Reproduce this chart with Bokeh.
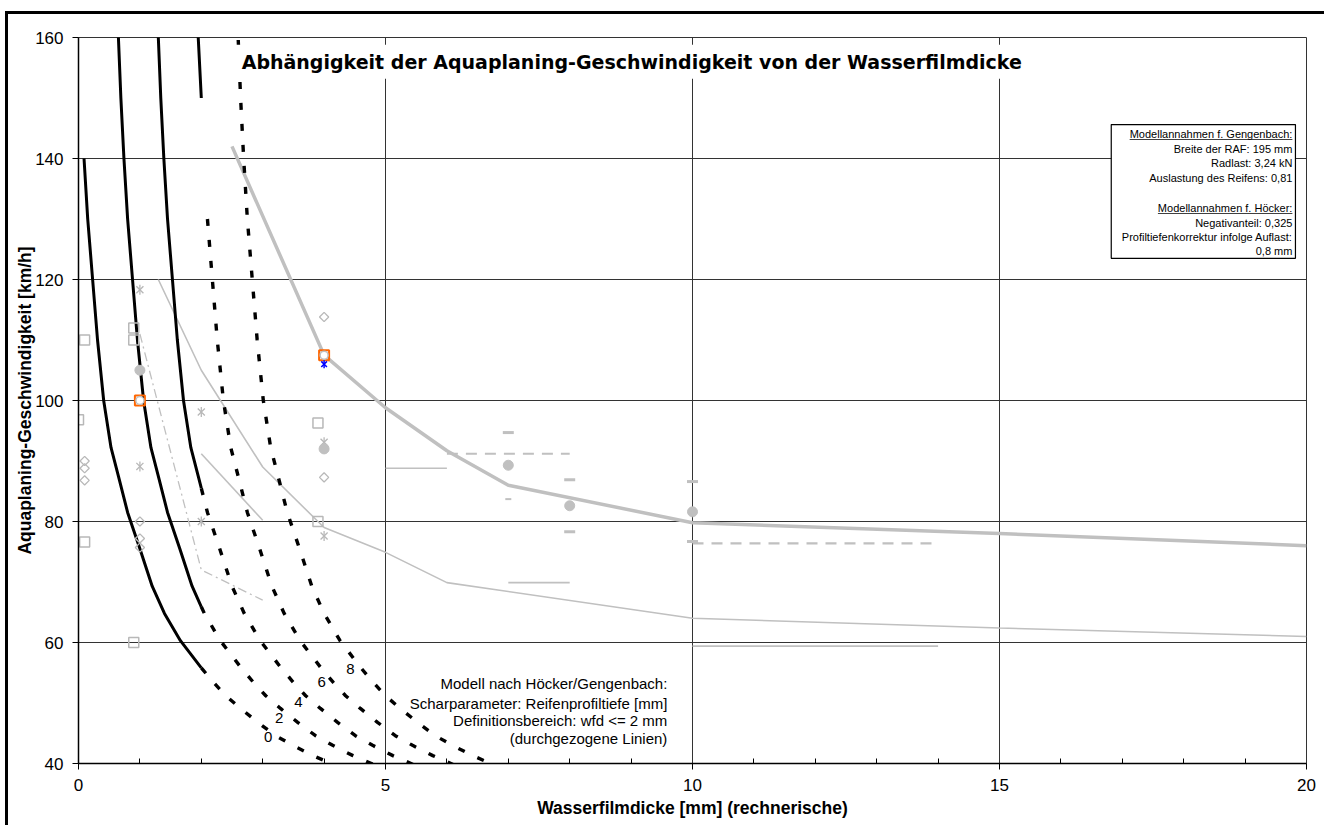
from bokeh.plotting import figure
from bokeh.models import Range1d, Label, FixedTicker, BoxAnnotation
from bokeh.embed import file_html
from bokeh.resources import INLINE

# ---- model curves after Höcker/Gengenbach, one per tread depth [mm] ----
# solid part: water film depth <= 2 mm, dotted part: extrapolation
c0_solid_x = [0.09, 0.15, 0.23, 0.31, 0.41, 0.53, 0.65, 0.8, 1.0, 1.2, 1.4, 1.66, 2.0]
c0_solid_y = [140, 130, 120, 110, 100, 92.2, 87.5, 81.5, 75.5, 69.3, 64.8, 60.3, 55.8]
c0_dot_x = [2.0, 2.2, 2.4, 2.64, 2.92, 3.21, 3.49, 3.82, 4.16, 4.4]
c0_dot_y = [55.8, 53.4, 51.2, 49.1, 46.8, 44.6, 43.0, 41.3, 39.8, 38.8]

c2_solid_x = [0.64, 0.65, 0.69, 0.74, 0.80, 0.88, 0.96, 1.06, 1.18, 1.30, 1.45, 1.65, 1.85, 2.0]
c2_solid_y = [170, 160, 150, 140, 130, 120, 110, 100, 92.2, 87.5, 81.5, 75.5, 69.3, 65.9]
c2_dot_x = [2.0, 2.05, 2.31, 2.65, 2.85, 3.05, 3.29, 3.57, 3.86, 4.14, 4.47, 4.81, 5.05]
c2_dot_y = [65.9, 64.8, 60.3, 55.8, 53.4, 51.2, 49.1, 46.8, 44.6, 43.0, 41.3, 39.8, 38.8]

c4_solid_x = [1.29, 1.30, 1.34, 1.39, 1.45, 1.53, 1.61, 1.71, 1.83, 1.95, 2.0]
c4_solid_y = [170, 160, 150, 140, 130, 120, 110, 100, 92.2, 87.5, 85.5]
c4_dot_x = [2.0, 2.1, 2.3, 2.5, 2.7, 2.96, 3.3, 3.5, 3.7, 3.94, 4.22, 4.51, 4.79, 5.12, 5.46, 5.7]
c4_dot_y = [85.5, 81.5, 75.5, 69.3, 64.8, 60.3, 55.8, 53.4, 51.2, 49.1, 46.8, 44.6, 43.0, 41.3, 39.8, 38.8]

c6_solid_x = [1.94, 1.95, 2.0]
c6_solid_y = [170, 160, 150]
c6_dot_x = [2.1, 2.18, 2.26, 2.36, 2.48, 2.6, 2.75, 2.95, 3.15, 3.35, 3.61, 3.95, 4.15, 4.35,
            4.59, 4.87, 5.16, 5.44, 5.77, 6.11, 6.35]
c6_dot_y = [130, 120, 110, 100, 92.2, 87.5, 81.5, 75.5, 69.3, 64.8, 60.3, 55.8, 53.4, 51.2,
            49.1, 46.8, 44.6, 43.0, 41.3, 39.8, 38.8]

c8_dot_x = [2.59, 2.6, 2.64, 2.69, 2.75, 2.83, 2.91, 3.01, 3.13, 3.25, 3.4, 3.6, 3.8, 4.0,
            4.26, 4.6, 4.8, 5.0, 5.24, 5.52, 5.81, 6.09, 6.42, 6.76, 7.0]
c8_dot_y = [170, 160, 150, 140, 130, 120, 110, 100, 92.2, 87.5, 81.5, 75.5, 69.3, 64.8,
            60.3, 55.8, 53.4, 51.2, 49.1, 46.8, 44.6, 43.0, 41.3, 39.8, 38.8]

curve_names = ["0", "2", "4", "6", "8"]
curve_label_x = [3.09, 3.27, 3.58, 3.96, 4.43]
curve_label_y = [44.3, 47.6, 50.1, 53.4, 55.7]

# ---- measured / comparison series ----
fit_x = [2.5, 4, 5, 6, 7, 10, 15, 20]
fit_y = [142, 107.5, 98.8, 91.7, 86, 79.8, 78, 76]

thin_a_x = [1.3, 2, 3, 4, 5, 6, 10, 15, 20]
thin_a_y = [120, 105, 89, 79, 74.9, 69.9, 64, 62.4, 61]

thin_b_x = [2, 3]
thin_b_y = [91.2, 80.2]

dashdot_x = [1, 2, 3]
dashdot_y = [111, 72, 67]

seg_solid_x0 = [5, 7, 10]
seg_solid_x1 = [6, 8, 14]
seg_solid_y = [88.8, 69.9, 59.4]

seg_dash_x0 = [6, 10]
seg_dash_x1 = [8, 14]
seg_dash_y = [91.2, 76.4]

square_x = [0.1, 0.0, 0.1, 0.9, 0.9, 0.9, 3.9, 3.9]
square_y = [110, 96.8, 76.6, 112, 110, 60, 96.3, 80]

diamond_x = [0.1, 0.1, 0.1, 1, 1, 1, 4, 4]
diamond_y = [90, 88.8, 86.8, 80, 77.2, 75.7, 113.8, 87.3]

star_x = [1, 1, 2, 2, 4, 4]
star_y = [118.3, 89.1, 98.1, 80, 93.1, 77.6]

dot_x = [1, 4, 7, 8, 10]
dot_y = [105, 92, 89.3, 82.6, 81.6]

bar_x = [7, 8, 8, 10, 10]
bar_y = [94.7, 86.9, 78.3, 86.6, 76.7]
small_bar_x = [7]
small_bar_y = [83.7]

orange_x = [1, 4]
orange_y = [100, 107.5]

blue_x = [4]
blue_y = [106]

x_ticks = [0, 5, 10, 15, 20]
x_minor = [v for v in range(1, 20) if v % 5]
y_ticks = [40, 60, 80, 100, 120, 140, 160]

title_text = "Abhängigkeit der Aquaplaning-Geschwindigkeit von der Wasserfilmdicke"
note_lines = ["Modell nach Höcker/Gengenbach:",
              "Scharparameter: Reifenprofiltiefe [mm]",
              "Definitionsbereich: wfd <= 2 mm",
              "(durchgezogene Linien)"]
note_y = [53.2, 50.0, 47.1, 44.1]
box_lines = ["Modellannahmen f. Gengenbach:", "Breite der RAF: 195 mm", "Radlast: 3,24 kN",
             "Auslastung des Reifens: 0,81", "Modellannahmen f. Höcker:",
             "Negativanteil: 0,325", "Profiltiefenkorrektur infolge Auflast:", "0,8 mm"]
box_line_y = [144.1, 141.65, 139.3, 136.85, 131.9, 129.4, 126.95, 124.65]

GRAY = "#c0c0c0"
MARK = "#b8b8b8"
FONT = "Liberation Sans"

p = figure(width=1316, height=811, margin=(11, 0, 0, 5),
           x_range=Range1d(0, 20), y_range=Range1d(40, 160),
           output_backend="svg", toolbar_location=None,
           min_border_left=70, min_border_top=23, min_border_right=21, min_border_bottom=65,
           styles={"border-left": "3px solid black", "border-top": "3px solid black",
                   "box-sizing": "content-box"})
p.background_fill_color = "white"
p.border_fill_color = "white"
p.outline_line_color = "#333333"
p.outline_line_width = 1

p.xaxis.ticker = FixedTicker(ticks=x_ticks, minor_ticks=x_minor)
p.yaxis.ticker = FixedTicker(ticks=y_ticks, minor_ticks=[])
p.xgrid.ticker = FixedTicker(ticks=x_ticks)
p.ygrid.ticker = FixedTicker(ticks=y_ticks)
for g in (p.xgrid, p.ygrid):
    g.grid_line_color = "#333333"
    g.grid_line_width = 1

for ax in (p.xaxis, p.yaxis):
    ax.axis_line_color = "black"
    ax.axis_line_width = 1.5
    ax.major_tick_line_color = "black"
    ax.major_tick_in = 0
    ax.major_tick_out = 6
    ax.major_label_text_font = FONT
    ax.major_label_text_font_size = "17px"
    ax.major_label_text_color = "black"
    ax.axis_label_text_font = FONT
    ax.axis_label_text_font_style = "bold"
    ax.axis_label_text_font_size = "17.5px"
    ax.axis_label_text_color = "black"
p.xaxis.minor_tick_line_color = "black"
p.xaxis.minor_tick_in = 5
p.xaxis.minor_tick_out = 0
p.yaxis.minor_tick_line_color = None
p.xaxis.major_label_standoff = 9
p.yaxis.major_label_standoff = 9
p.xaxis.axis_label = "Wasserfilmdicke [mm] (rechnerische)"
p.yaxis.axis_label = "Aquaplaning-Geschwindigkeit [km/h]"
p.xaxis.axis_label_standoff = 4
p.yaxis.axis_label_standoff = -3

# measured comparison data (gray)
p.line(fit_x, fit_y, line_color=GRAY, line_width=3.5)
p.line(thin_a_x, thin_a_y, line_color=GRAY, line_width=1.6)
p.line(thin_b_x, thin_b_y, line_color=GRAY, line_width=1.6)
p.line(dashdot_x, dashdot_y, line_color=GRAY, line_width=1.3, line_dash="9 4 2 4")
p.segment(x0=seg_solid_x0, x1=seg_solid_x1, y0=seg_solid_y, y1=seg_solid_y,
          line_color=GRAY, line_width=1.6)
p.segment(x0=seg_dash_x0, x1=seg_dash_x1, y0=seg_dash_y, y1=seg_dash_y,
          line_color=GRAY, line_width=2.2, line_dash="11 8")

# model curves (black)
solid_sets = [(c0_solid_x, c0_solid_y), (c2_solid_x, c2_solid_y),
              (c4_solid_x, c4_solid_y), (c6_solid_x, c6_solid_y)]
dot_sets = [(c0_dot_x, c0_dot_y), (c2_dot_x, c2_dot_y), (c4_dot_x, c4_dot_y),
            (c6_dot_x, c6_dot_y), (c8_dot_x, c8_dot_y)]
for xs, ys in solid_sets:
    p.line(xs, ys, line_color="black", line_width=3)
for xs, ys in dot_sets:
    p.line(xs, ys, line_color="black", line_width=3.4, line_dash="7 14", line_cap="butt")

# markers
p.scatter(square_x, square_y, marker="square", size=10, fill_color=None,
          line_color=MARK, line_width=1.5)
p.scatter(diamond_x, diamond_y, marker="square", angle=0.785398, size=6.5, fill_color=None,
          line_color=MARK, line_width=1.3)
p.scatter(star_x, star_y, marker="x", size=10, line_color=MARK, line_width=1.3)
p.scatter(star_x, star_y, marker="dash", angle=1.570796, size=10, line_color=MARK, line_width=1.3)
p.scatter(dot_x, dot_y, marker="circle", size=10, fill_color=GRAY, line_color=GRAY)
p.scatter(bar_x, bar_y, marker="dash", size=11, line_color=GRAY, line_width=3)
p.scatter(small_bar_x, small_bar_y, marker="dash", size=6, line_color=GRAY, line_width=2)
p.scatter(orange_x, orange_y, marker="square", size=10, fill_color=None,
          line_color="#ff6600", line_width=2)
p.scatter(orange_x, orange_y, marker="circle", size=8, fill_color="white",
          line_color=GRAY, line_width=1.5)
p.scatter(blue_x, blue_y, marker="x", size=8, line_color="#0000ff", line_width=1.5)
p.scatter(blue_x, blue_y, marker="dash", angle=1.570796, size=8, line_color="#0000ff",
          line_width=1.5)

# tread depth labels on the curve family
for name, lx, ly in zip(curve_names, curve_label_x, curve_label_y):
    p.add_layout(Label(x=lx, y=ly, text=name, text_font=FONT, text_font_size="15px",
                       text_align="center", text_baseline="middle", text_color="black"))

# model description
for line, ly in zip(note_lines, note_y):
    p.add_layout(Label(x=9.59, y=ly, text=line, text_font=FONT, text_font_size="15px",
                       text_align="right", text_baseline="middle", text_color="black"))

# assumptions box
p.add_layout(BoxAnnotation(left=16.82, right=19.82, top=145.6, bottom=123.5,
                           fill_color="white", fill_alpha=1, line_color="black",
                           line_width=1.2, line_alpha=1))
p.add_layout(BoxAnnotation(left=17.12, right=19.77, top=143.18, bottom=143.05,
                           fill_color="black", fill_alpha=1, line_color=None))
p.add_layout(BoxAnnotation(left=17.58, right=19.77, top=130.95, bottom=130.82,
                           fill_color="black", fill_alpha=1, line_color=None))
for line, ly in zip(box_lines, box_line_y):
    p.add_layout(Label(x=19.77, y=ly, text=line, text_font=FONT, text_font_size="11px",
                       text_align="right", text_baseline="middle", text_color="black"))

# chart title inside the plot area
p.add_layout(Label(x=2.56, y=156.0, text=title_text, text_font="DejaVu Sans",
                   text_font_style="bold", text_font_size="19px", text_align="left",
                   text_baseline="middle", text_color="black",
                   background_fill_color="white", background_fill_alpha=1, padding=6))

open("out.html", "w").write(file_html(p, INLINE))
